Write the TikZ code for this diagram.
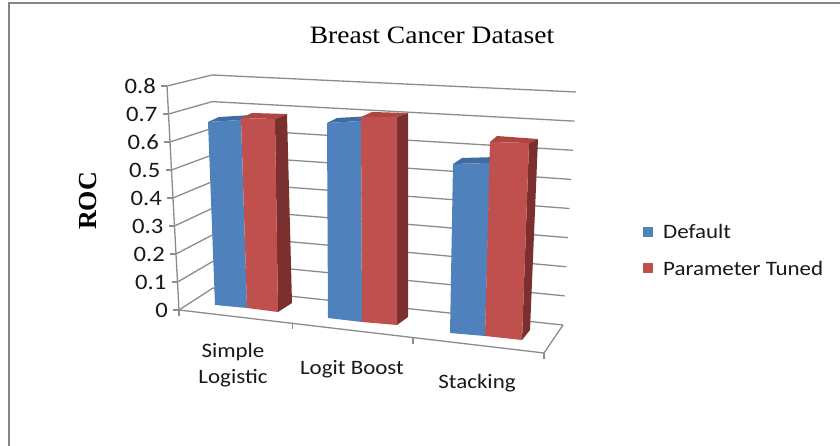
\documentclass[tikz,border=0pt]{standalone}
\usepackage{fontspec}
\usepackage{graphicx}
\usetikzlibrary{calc}
\setmainfont{Liberation Serif}
\newfontfamily\calfont{Carlito}
\definecolor{gridgray}{HTML}{8C8C8C}
\definecolor{framegray}{HTML}{858585}
\definecolor{bluefront}{HTML}{4F81BD}
\definecolor{bluetop}{HTML}{3F6CA1}
\definecolor{redfront}{HTML}{C0504D}
\definecolor{redtop}{HTML}{AE4541}
\definecolor{redside}{HTML}{7B2F2E}
\newcommand\hs[1]{\scalebox{1.12}[1]{#1}}
\tikzset{
  grid/.style={draw=gridgray, line width=1.3pt},
  lbl/.style={font=\calfont\fontsize{20.5}{26}\selectfont, inner sep=0pt, text=black!90},
  ticklbl/.style={font=\calfont\fontsize{22}{26}\selectfont, inner sep=0pt, text=black!90},
  titlestyle/.style={font=\fontsize{25}{28}\selectfont, inner sep=0pt},
}
\begin{document}
\begin{tikzpicture}[x=1pt,y=-1pt]
\useasboundingbox (0,0) rectangle (840,446);
\fill[white] (0,0) rectangle (840,446);
\draw[framegray, line width=2pt] (8.5,446) -- (8.5,3.5) -- (840,3.5);

% title
\node[titlestyle] (title) at (432,35) {\scalebox{1.1}[1]{Breast Cancer Dataset}};

% walls
\coordinate (A0) at (179,310); \coordinate (A8) at (167,86);
\coordinate (B0) at (213,288); \coordinate (B8) at (212,75);
\coordinate (C0) at (563,325); \coordinate (C8) at (576,92);
\coordinate (F) at (544,353);

\foreach \k in {0,...,8} {
  \draw[grid] ($(A0)!{\k/8}!(A8)$) -- ($(B0)!{\k/8}!(B8)$) -- ($(C0)!{\k/8}!(C8)$);
  \draw[grid] ($(A0)!{\k/8}!(A8)$) -- ++(-6,0);
}
\foreach \k/\t in {0/0,1/0.1,2/0.2,3/0.3,4/0.4,5/0.5,6/0.6,7/0.7,8/0.8} {
  \node[ticklbl, anchor=east] (t\k) at ($(A0)!{\k/8}!(A8)+(-11,0)$) {\hs{\t}};
}
\draw[grid] (A0) -- (A8);
\draw[grid] (A0) -- (F) -- (C0);
\foreach \f in {0,0.31,0.641,1} {
  \draw[grid] ($(A0)!\f!(F)$) -- ++(0,6);
}

% axis title
\node[font=\bfseries\fontsize{26}{28}\selectfont, rotate=90, inner sep=0pt] (roc) at (88,201) {ROC};

% group 1
\fill[bluetop] (208,122) -- (219,117) -- (252,115) -- (241,120) -- cycle;
\fill[bluefront] (208,122) -- (241,120) -- (247,308) -- (215,305) -- cycle;
\fill[redside] (275,119) -- (287,114) -- (292,303) -- (278,312) -- cycle;
\fill[redtop] (241,118) -- (252,113) -- (287,114) -- (275,119) -- cycle;
\fill[redfront] (241,118) -- (275,119) -- (278,312) -- (247,308) -- cycle;

% group 2
\fill[bluetop] (327,123) -- (337,118) -- (372,116) -- (361,121) -- cycle;
\fill[bluefront] (327,123) -- (361,121) -- (362,322) -- (328,318) -- cycle;
\fill[redside] (397,117) -- (408,113) -- (408,317) -- (397,325) -- cycle;
\fill[redtop] (361,117) -- (372,112) -- (408,113) -- (397,117) -- cycle;
\fill[redfront] (361,117) -- (397,117) -- (397,325) -- (362,322) -- cycle;

% group 3
\fill[bluetop] (453,164) -- (462,158) -- (497,157) -- (490,163) -- cycle;
\fill[bluefront] (453,164) -- (490,163) -- (485,336) -- (450,333) -- cycle;
\fill[redside] (529,143) -- (538,139) -- (530,330) -- (522,340) -- cycle;
\fill[redtop] (490,142) -- (497,136) -- (538,139) -- (529,143) -- cycle;
\fill[redfront] (490,142) -- (529,143) -- (522,340) -- (485,336) -- cycle;

% category labels
\node[lbl, align=center] (c1) at (233,365) {\hs{Simple}\\\hs{Logistic}};
\node[lbl] (c2) at (352,369) {\hs{Logit Boost}};
\node[lbl] (c3) at (477,383) {\hs{Stacking}};

% legend
\fill[bluefront] (643,227) rectangle (653,237);
\node[lbl, anchor=west] (l1) at (663,231) {\hs{Default}};
\fill[redfront] (643,263) rectangle (653,273);
\node[lbl, anchor=west] (l2) at (663,268) {\hs{Parameter Tuned}};
\end{tikzpicture}
\end{document}
